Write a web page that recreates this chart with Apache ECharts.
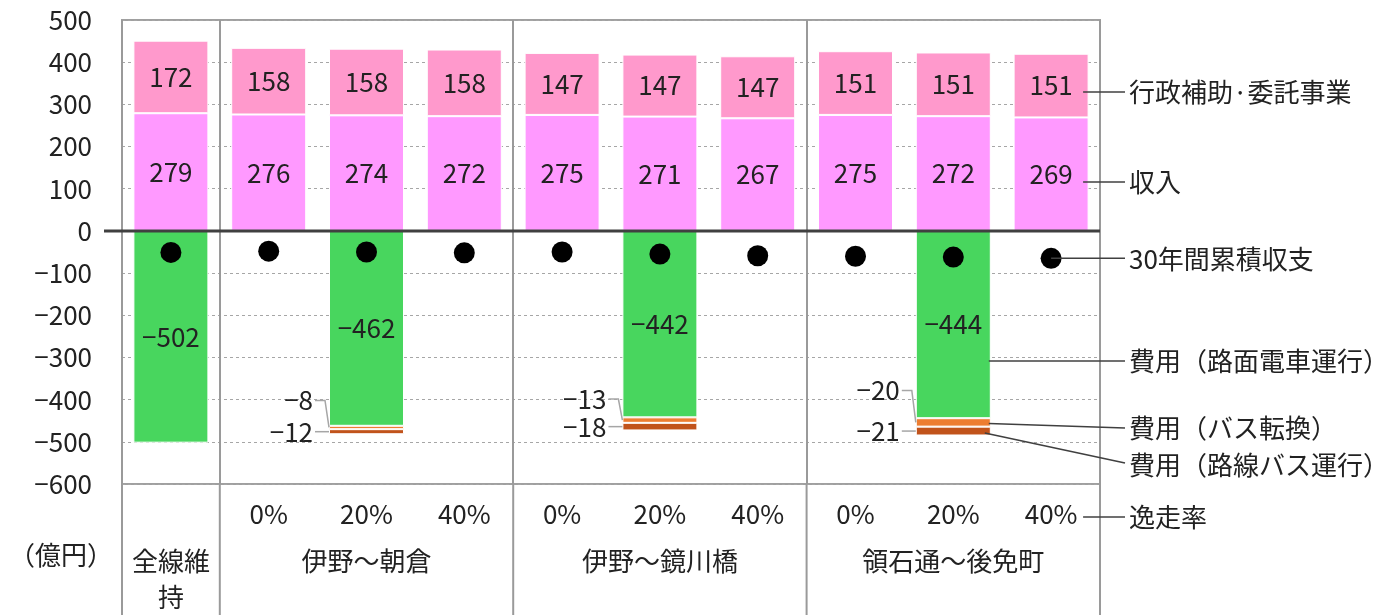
<!DOCTYPE html>
<html><head><meta charset="utf-8">
<script src="https://cdn.jsdelivr.net/npm/echarts@6/dist/echarts.min.js"></script>
<style>html,body{margin:0;padding:0;background:#fff}#c{width:1376px;height:615px}</style>
</head><body><div id="c"></div>
<script>
// ---- data ----
const categories = ['全線維持','伊野～朝倉 0%','伊野～朝倉 20%','伊野～朝倉 40%','伊野～鏡川橋 0%','伊野～鏡川橋 20%','伊野～鏡川橋 40%','領石通～後免町 0%','領石通～後免町 20%','領石通～後免町 40%'];
const rateLabels = ['', '0%','20%','40%','0%','20%','40%','0%','20%','40%'];
const groupLabels = ['全線維\n持','', '伊野～朝倉','','','伊野～鏡川橋','','','領石通～後免町',''];
const income = [279,276,274,272,275,271,267,275,272,269];
const subsidy = [172,158,158,158,147,147,147,151,151,151];
const costTram = [-502,null,-462,null,null,-442,null,null,-444,null];
const costBusConv = [null,null,-8,null,null,-13,null,null,-20,null];
const costBusRoute = [null,null,-12,null,null,-18,null,null,-21,null];
const balance30 = [-51,-48,-50,-52,-50,-55,-59,-60,-62,-65];
const seriesNames = ['行政補助·委託事業','収入','30年間累積収支','費用（路面電車運行）','費用（バス転換）','費用（路線バス運行）','逸走率'];
const unitLabel = '（億円）';
const groupStarts = [0, 1, 4, 7];

// ---- layout / style ----
const FONT = '"Noto Sans CJK JP", "Noto Sans", sans-serif';
const FS = 26;
const TXT = '#222';
const minus = v => (v < 0 ? '\u2212' + Math.abs(v) : String(v));
const busConvLabelDy = {2: -27, 5: -21, 8: -32};
const legendY = [92, 182, 259, 361, 428, 465, 517];
const legendX = 1129;
const lineEndX = 1125;

const chart = echarts.init(document.getElementById('c'), null, {renderer: 'canvas'});
const barW = 75;
const lbl = {show: true, position: 'inside', fontFamily: FONT, fontSize: FS, color: TXT, formatter: p => minus(p.value)};

chart.setOption({
  animation: false,
  grid: {left: 122, right: 276, top: 20, bottom: 128, show: true, borderColor: '#a0a0a0', borderWidth: 2, backgroundColor: 'transparent'},
  xAxis: [{
    type: 'category', data: categories, boundaryGap: true,
    axisLine: {show: false},
    axisTick: {show: false},
    splitLine: {show: true, interval: (i) => groupStarts.includes(i), lineStyle: {color: '#9a9a9a', width: 2}},
    axisLabel: {interval: 0, margin: 17, fontFamily: FONT, fontSize: FS, color: TXT, formatter: (v, i) => rateLabels[i]}
  }, {
    type: 'category', data: categories, position: 'bottom', boundaryGap: true,
    axisLine: {show: false}, axisTick: {show: false}, splitLine: {show: false},
    axisLabel: {interval: 0, margin: 59, lineHeight: 36, fontFamily: FONT, fontSize: FS, color: TXT, formatter: (v, i) => groupLabels[i]}
  }],
  yAxis: {
    type: 'value', min: -600, max: 500, interval: 100,
    axisLine: {show: false}, axisTick: {show: false},
    splitLine: {show: true, lineStyle: {color: '#a6a6a6', type: [3, 3], width: 1}},
    axisLabel: {margin: 30, fontFamily: FONT, fontSize: FS, color: TXT, formatter: minus}
  },
  series: [
    {name: seriesNames[1], type: 'bar', stack: 'a', barWidth: barW, data: income,
     itemStyle: {color: '#FF99FF', borderColor: '#fff', borderWidth: 1}, label: lbl},
    {name: seriesNames[0], type: 'bar', stack: 'a', barWidth: barW, data: subsidy,
     itemStyle: {color: '#FF99CC', borderColor: '#fff', borderWidth: 1}, label: lbl},
    {name: seriesNames[3], type: 'bar', stack: 'a', barWidth: barW, data: costTram,
     itemStyle: {color: '#48D65E', borderColor: '#fff', borderWidth: 1}, label: lbl},
    {name: seriesNames[4], type: 'bar', stack: 'a', barWidth: barW,
     data: costBusConv.map((v, i) => v == null ? null : {value: v, label: {offset: [0, busConvLabelDy[i] || 0]}}),
     itemStyle: {color: '#ED7D31', borderColor: '#fff', borderWidth: 1},
     label: Object.assign({}, lbl, {position: 'left', distance: 16})},
    {name: seriesNames[5], type: 'bar', stack: 'a', barWidth: barW, data: costBusRoute,
     itemStyle: {color: '#C1531B', borderColor: '#fff', borderWidth: 1},
     label: Object.assign({}, lbl, {position: 'left', distance: 16})},
    {name: seriesNames[2], type: 'scatter', data: balance30, symbolSize: 21, z: 5,
     itemStyle: {color: '#000', opacity: 1}}
  ]
});

// ---- annotations computed from the scales ----
const P = (i, v) => chart.convertToPixel({xAxisIndex: 0, yAxisIndex: 0}, [i, v]);
const band = P(1, 0)[0] - P(0, 0)[0];
const half = barW / 2;
const g = [];
const LINE = '#404040';
const LEAD = '#a6a6a6';
const last = categories.length - 1;
// group separators below the plot
const yBottom = P(0, -600)[1];
groupStarts.concat([last + 1]).forEach(i => {
  const x = P(0, 0)[0] + (i - 0.5) * band;
  g.push({type: 'line', shape: {x1: x, y1: yBottom, x2: x, y2: 615}, style: {stroke: '#9a9a9a', lineWidth: 2}, z: 10});
});
// zero line
const z0 = P(0, 0);
g.push({type: 'line', shape: {x1: z0[0] - band / 2 - 18, y1: z0[1], x2: z0[0] + (last + 0.5) * band, y2: z0[1]}, style: {stroke: '#404040', lineWidth: 3}, z: 10});
// small label leaders
costBusConv.forEach((v, i) => {
  if (v == null) return;
  const cx = P(i, 0)[0];
  const left = cx - half;
  const yL = P(i, costTram[i] + v / 2)[1];
  const yD = P(i, costTram[i] + v + costBusRoute[i] / 2)[1];
  const dy = busConvLabelDy[i] || 0;
  g.push({type: 'polyline', shape: {points: [[left - 14, yL + dy], [left - 4, yL + dy], [left, yL]]}, style: {stroke: LEAD, lineWidth: 1.5, fill: null}, z: 10});
  g.push({type: 'line', shape: {x1: left - 14, y1: yD, x2: left, y2: yD}, style: {stroke: LEAD, lineWidth: 1.5}, z: 10});
});
// legend texts
seriesNames.forEach((n, k) => {
  g.push({type: 'text', x: legendX, y: legendY[k], style: {text: n, font: FS + 'px ' + FONT, fill: TXT, textAlign: 'left', textVerticalAlign: 'middle'}, z: 10});
});
// legend leader lines
const cxL = P(last, 0)[0];
const c8 = P(8, 0)[0];
g.push({type: 'line', shape: {x1: cxL + 32, y1: legendY[0], x2: lineEndX, y2: legendY[0]}, style: {stroke: LINE, lineWidth: 1.5}, z: 10});
g.push({type: 'line', shape: {x1: cxL + 32, y1: legendY[1], x2: lineEndX, y2: legendY[1]}, style: {stroke: LINE, lineWidth: 1.5}, z: 10});
const dotP = P(last, balance30[last]);
g.push({type: 'line', shape: {x1: dotP[0], y1: dotP[1], x2: lineEndX, y2: dotP[1]}, style: {stroke: LINE, lineWidth: 1.5}, z: 10});
g.push({type: 'line', shape: {x1: c8 + half - 2, y1: legendY[3], x2: lineEndX, y2: legendY[3]}, style: {stroke: LINE, lineWidth: 1.5}, z: 10});
const yL8 = P(8, costTram[8] + costBusConv[8] / 2)[1];
const yD8 = P(8, costTram[8] + costBusConv[8] + costBusRoute[8] / 2)[1];
g.push({type: 'line', shape: {x1: c8 + half - 2, y1: yL8 + 1, x2: lineEndX, y2: legendY[4]}, style: {stroke: LINE, lineWidth: 1.5}, z: 10});
g.push({type: 'line', shape: {x1: c8 + half - 6, y1: yD8 + 2, x2: lineEndX, y2: legendY[5] - 2}, style: {stroke: LINE, lineWidth: 1.5}, z: 10});
g.push({type: 'line', shape: {x1: cxL + 32, y1: legendY[6], x2: lineEndX, y2: legendY[6]}, style: {stroke: LINE, lineWidth: 1.5}, z: 10});
// unit label
g.push({type: 'text', x: 61, y: 555, style: {text: unitLabel, font: FS + 'px ' + FONT, fill: TXT, textAlign: 'center', textVerticalAlign: 'middle'}, z: 10});
chart.setOption({graphic: g});
</script>
</body></html>
